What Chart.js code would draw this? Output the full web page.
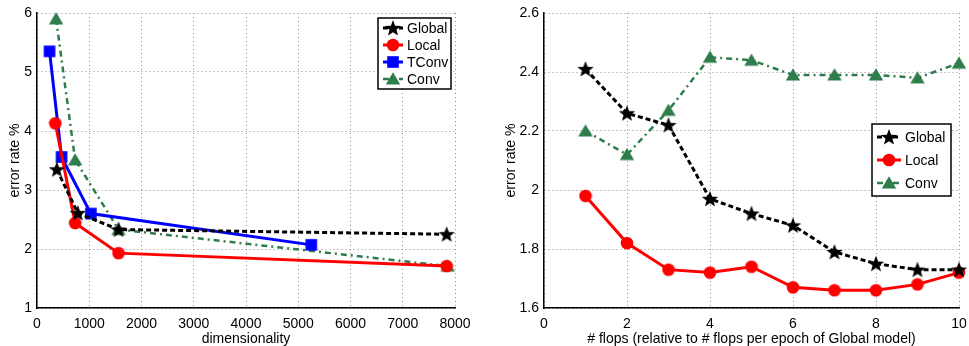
<!DOCTYPE html>
<html>
<head>
<meta charset="utf-8">
<script src="https://cdn.jsdelivr.net/npm/chart.js@4/dist/chart.umd.min.js"></script>
<style>
  html, body { margin: 0; padding: 0; background: #fff; }
  #wrap { position: relative; width: 969px; height: 346px; overflow: hidden; }
  .box { position: absolute; top: 0; height: 346px; }
  #boxL { left: 0; width: 480px; }
  #boxR { left: 490px; width: 479px; }
</style>
</head>
<body>
<div id="wrap">
  <div class="box" id="boxL"><canvas id="chartL"></canvas></div>
  <div class="box" id="boxR"><canvas id="chartR"></canvas></div>
</div>
<script>
"use strict";

// ── Data: left panel (error vs dimensionality) ─────────────────────────
const dimGlobalX = [380, 780, 1560, 7840];
const dimGlobalY = [3.35, 2.61, 2.33, 2.25];
const dimLocalX  = [350, 730, 1560, 7840];
const dimLocalY  = [4.13, 2.44, 1.93, 1.71];
const dimTConvX  = [240, 470, 1030, 5250];
const dimTConvY  = [5.35, 3.56, 2.60, 2.07];
const dimConvX   = [365, 730, 1560, 7860];
const dimConvY   = [5.90, 3.51, 2.33, 1.71];

// ── Data: right panel (error vs flops) ─────────────────────────────────
const flops       = [1, 2, 3, 4, 5, 6, 7, 8, 9, 10];
const flopsGlobal = [2.41, 2.26, 2.22, 1.97, 1.92, 1.88, 1.79, 1.75, 1.73, 1.73];
const flopsLocal  = [1.98, 1.82, 1.73, 1.72, 1.74, 1.67, 1.66, 1.66, 1.68, 1.72];
const flopsConv   = [2.20, 2.12, 2.27, 2.45, 2.44, 2.39, 2.39, 2.39, 2.38, 2.43];

const FONT = "'Liberation Sans', Arial, Helvetica, sans-serif";
const GREEN = "#2e7d4a";

Chart.defaults.font.family = FONT;
Chart.defaults.font.size = 14;
Chart.defaults.color = "#000";

// ── Marker sprites ─────────────────────────────────────────────────────
function sprite(size, draw) {
  const c = document.createElement("canvas");
  c.width = size; c.height = size;
  const g = c.getContext("2d");
  draw(g, size / 2);
  return c;
}
const starMark = sprite(18, (g, m) => {
  g.fillStyle = "#000";
  g.beginPath();
  for (let i = 0; i < 10; i++) {
    const r = i % 2 ? 3.6 : 8.6;
    const a = -Math.PI / 2 + i * Math.PI / 5;
    g.lineTo(m + r * Math.cos(a), m + 0.6 + r * Math.sin(a));
  }
  g.closePath(); g.fill();
});
const circleMark = sprite(14, (g, m) => {
  g.fillStyle = "#ff0000";
  g.beginPath(); g.arc(m, m, 6.3, 0, Math.PI * 2); g.fill();
});
const squareMark = sprite(14, (g, m) => {
  g.fillStyle = "#0000ff";
  g.fillRect(m - 5.8, m - 5.8, 11.6, 11.6);
});
const triMark = sprite(16, (g, m) => {
  g.fillStyle = GREEN;
  g.beginPath();
  g.moveTo(m, m - 6.8); g.lineTo(m + 7.2, m + 5.6); g.lineTo(m - 7.2, m + 5.6);
  g.closePath(); g.fill();
});

const styles = {
  Global: { color: "#000",    width: 3,   dash: [5, 3],          mark: starMark },
  Local:  { color: "#ff0000", width: 3,   dash: [],              mark: circleMark },
  TConv:  { color: "#0000ff", width: 3,   dash: [],              mark: squareMark },
  Conv:   { color: GREEN,     width: 2.5, dash: [6, 4, 2, 4],    mark: triMark },
};

const pts = (xs, ys) => xs.map((x, i) => ({ x, y: ys[i] }));

const dataset = (label, data) => {
  const s = styles[label];
  return {
    label, data,
    borderColor: s.color,
    backgroundColor: s.color,
    borderWidth: s.width,
    borderDash: s.dash,
    pointStyle: s.mark,
    pointRadius: 7,
    tension: 0,
    clip: false,
  };
};

// ── Legend drawn inside the plot, Matlab style ────────────────────────
const boxLegend = {
  id: "boxLegend",
  afterDatasetsDraw(chart, args, opts) {
    const { ctx } = chart;
    const { x, y, w, h, rowH, lineLen } = opts;
    ctx.save();
    ctx.fillStyle = "#fff";
    ctx.fillRect(x, y, w, h);
    ctx.strokeStyle = "#000";
    ctx.lineWidth = 1.5;
    ctx.strokeRect(x, y, w, h);
    chart.data.datasets.forEach((ds, i) => {
      const s = styles[ds.label];
      const cy = y + opts.first + i * rowH;
      ctx.strokeStyle = s.color;
      ctx.lineWidth = s.width;
      ctx.setLineDash(s.dash);
      ctx.beginPath();
      ctx.moveTo(x + 5, cy);
      ctx.lineTo(x + 5 + lineLen, cy);
      ctx.stroke();
      ctx.setLineDash([]);
      const m = s.mark;
      ctx.drawImage(m, x + 5 + lineLen / 2 - m.width / 2, cy - m.height / 2);
      ctx.fillStyle = "#000";
      ctx.font = "14px " + FONT;
      ctx.textBaseline = "middle";
      ctx.fillText(ds.label, x + 9 + lineLen, cy + 1);
    });
    ctx.restore();
  },
};

const plain = v => String(Math.round(v * 10) / 10);

function axes(xMin, xMax, xStep, yMin, yMax, yStep, xTitle, yW, yTitlePad) {
  const gridStyle = { color: "#8c8c8c", lineWidth: 1, drawTicks: false };
  const border = { color: "#000", width: 1.5, dash: [1, 3] };
  return {
    x: {
      type: "linear", min: xMin, max: xMax,
      ticks: { stepSize: xStep, padding: 8, maxRotation: 0, callback: plain },
      grid: gridStyle, border,
      title: { display: true, text: xTitle, padding: { top: 0, bottom: -2 } },
      afterFit(s) { s.height = 38; s.paddingLeft = 0; s.paddingRight = 0; },
    },
    y: {
      type: "linear", min: yMin, max: yMax,
      ticks: { stepSize: yStep, padding: 5, callback: plain },
      grid: gridStyle, border,
      title: { display: true, text: "error rate %", padding: { top: yTitlePad, bottom: 0 } },
      afterFit(s) { s.width = yW; s.paddingTop = 0; s.paddingBottom = 0; },
    },
  };
}

function baseOpts(scales, legend, padRight) {
  return {
    responsive: true,
    maintainAspectRatio: false,
    animation: false,
    layout: { padding: { left: 0, right: padRight, top: 13, bottom: 0 } },
    plugins: { legend: { display: false }, tooltip: { enabled: false }, boxLegend: legend },
    scales,
  };
}

new Chart(document.getElementById("chartL"), {
  type: "line",
  data: {
    datasets: [
      dataset("Global", pts(dimGlobalX, dimGlobalY)),
      dataset("Local",  pts(dimLocalX,  dimLocalY)),
      dataset("TConv",  pts(dimTConvX,  dimTConvY)),
      dataset("Conv",   pts(dimConvX,   dimConvY)),
    ],
  },
  options: baseOpts(
    axes(0, 8000, 1000, 1, 6, 1, "dimensionality", 37, 7),
    { x: 378, y: 18, w: 73, h: 71, rowH: 17, first: 10, lineLen: 20 },
    25),
  plugins: [boxLegend],
});

new Chart(document.getElementById("chartR"), {
  type: "line",
  data: {
    datasets: [
      dataset("Global", pts(flops, flopsGlobal)),
      dataset("Local",  pts(flops, flopsLocal)),
      dataset("Conv",   pts(flops, flopsConv)),
    ],
  },
  options: baseOpts(
    axes(0, 10, 2, 1.6, 2.6, 0.2, "# flops (relative to # flops per epoch of Global model)", 54, 13),
    { x: 382, y: 124, w: 79, h: 72, rowH: 23, first: 13, lineLen: 24 },
    6),
  plugins: [boxLegend],
});
</script>
</body>
</html>
